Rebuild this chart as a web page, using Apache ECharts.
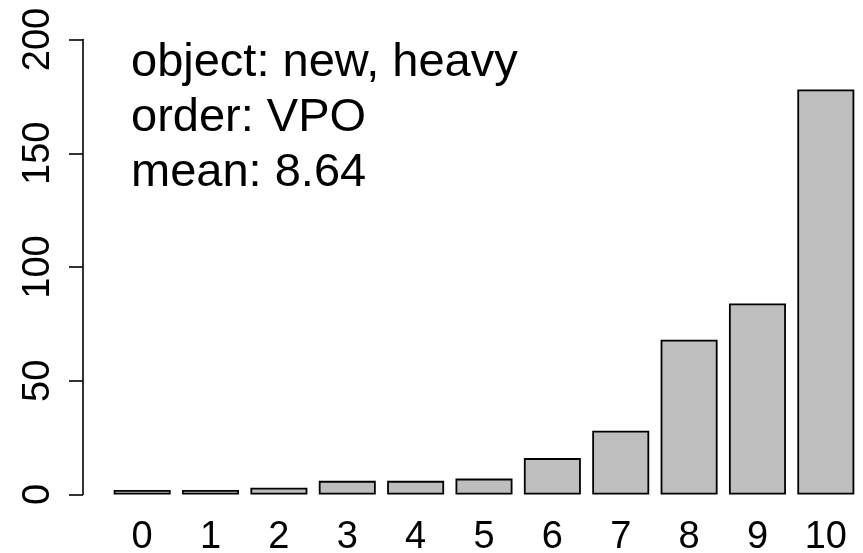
<!DOCTYPE html>
<html>
<head>
<meta charset="utf-8">
<script src="https://cdn.jsdelivr.net/npm/echarts@6/dist/echarts.min.js"></script>
<style>
  html, body { margin: 0; padding: 0; background: #ffffff; }
  #chart { width: 863px; height: 553px; }
</style>
</head>
<body>
<div id="chart"></div>
<script>
// Rating counts per score (0..10)
const scores = ['0', '1', '2', '3', '4', '5', '6', '7', '8', '9', '10'];
const counts = [2, 2, 3, 6, 6, 7, 16, 28, 68, 84, 178];
const yTicks = [0, 50, 100, 150, 200];
const infoLines = ['object: new, heavy', 'order: VPO', 'mean: 8.64'];

const FONT = '"Liberation Sans", Arial, Helvetica, sans-serif';

const chart = echarts.init(document.getElementById('chart'), null, { renderer: 'canvas' });

chart.setOption({
  backgroundColor: '#ffffff',
  animation: false,
  title: {
    text: infoLines.join('\n'),
    left: 131,
    top: 36,
    padding: 0,
    textStyle: {
      fontFamily: FONT,
      fontSize: 47,
      fontWeight: 'normal',
      color: '#000000',
      lineHeight: 55
    }
  },
  grid: {
    left: 108,
    right: 3,
    top: 39.5,
    bottom: 58.5,
    containLabel: false,
    outerBoundsMode: 'none'
  },
  xAxis: {
    type: 'category',
    data: scores,
    boundaryGap: true,
    axisLine: { show: false },
    axisTick: { show: false },
    axisLabel: {
      fontFamily: FONT,
      fontSize: 38,
      color: '#000000',
      margin: 24,
      interval: 0
    }
  },
  yAxis: {
    type: 'value',
    min: yTicks[0],
    max: yTicks[yTicks.length - 1],
    interval: yTicks[1] - yTicks[0],
    offset: 25,
    splitLine: { show: false },
    axisLine: { show: true, lineStyle: { color: '#000000', width: 1.6 } },
    axisTick: { show: true, length: 14, lineStyle: { color: '#000000', width: 1.6 } },
    axisLabel: {
      fontFamily: FONT,
      fontSize: 38,
      color: '#000000',
      rotate: 90,
      margin: 25
    }
  },
  series: [{
    type: 'bar',
    data: counts,
    barWidth: 57,
    itemStyle: {
      color: '#bebebe',
      borderColor: '#000000',
      borderWidth: 1.8
    }
  }]
});
</script>
</body>
</html>
